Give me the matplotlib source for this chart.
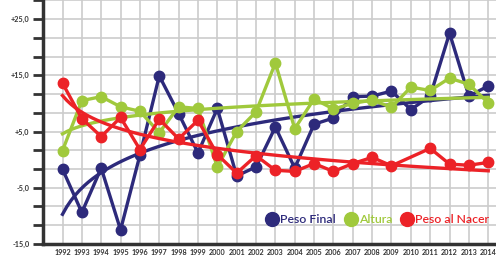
import numpy as np
import matplotlib
matplotlib.use("Agg")
import matplotlib.pyplot as plt

# Peso Final (navy), one point per year
years_final = list(range(1992, 2015))
peso_final = [-1.7, -9.4, -1.5, -12.5, 0.8, 14.9, 8.2, 1.2, 9.1, -2.9, -1.3, 5.8,
              -1.5, 6.3, 7.4, 11.2, 11.3, 12.2, 8.9, 11.3, 22.5, 11.3, 13.1]

# Altura (green)
years_altura = list(range(1992, 2015))
altura = [1.6, 10.5, 11.2, 9.4, 8.6, 4.8, 9.4, 9.1, -1.3, 5.0, 8.5, 17.2,
          5.5, 10.8, 9.0, 10.0, 10.6, 9.3, 12.9, 12.3, 14.5, 13.4, 10.1]

# Peso al Nacer (red), no point for 2010
years_nacer = [1992, 1993, 1994, 1995, 1996, 1997, 1998, 1999, 2000, 2001, 2002,
               2003, 2004, 2005, 2006, 2007, 2008, 2009, 2011, 2012, 2013, 2014]
peso_nacer = [13.6, 7.3, 4.1, 7.5, 1.8, 7.2, 3.7, 7.0, 0.9, -2.4, 0.7,
              -1.9, -2.1, -0.7, -2.1, -0.7, 0.4, -1.1, 2.0, -0.8, -1.0, -0.5]

y_labels = ["-15,0", "-5,0", "+5,0", "+15,0", "+25,0"]

NAVY = "#2d2a7b"
GREEN = "#a0c93c"
RED = "#ec2227"

plt.rcParams["font.family"] = ["Lato", "DejaVu Sans"]

fig = plt.figure(figsize=(4.96, 2.62), dpi=100)
ax = fig.add_axes([0.087, 0.069, 0.913, 0.931])


def log_trend(years, values):
    # logarithmic trendline on period index, like a spreadsheet trendline
    t = np.array(years) - 1991
    b, a = np.polyfit(np.log(t), values, 1)
    tt = np.linspace(t.min(), t.max(), 100)
    return tt + 1991, a + b * np.log(tt)


series = [
    (years_final, peso_final, NAVY, "Peso Final"),
    (years_altura, altura, GREEN, "Altura"),
    (years_nacer, peso_nacer, RED, "Peso al Nacer"),
]

for yrs, vals, col, name in series:
    ax.plot(yrs, vals, color=col, lw=2.4, marker="o", ms=7.5, zorder=3)
    tx, ty = log_trend(yrs, vals)
    ax.plot(tx, ty, color=col, lw=2.4, zorder=3)

handles = [plt.Line2D([], [], ls="none", marker="o", ms=10, color=c)
           for _, _, c, _ in series]
leg = ax.legend(handles, [s[3] for s in series], loc="center right",
                bbox_to_anchor=(1.0, 0.1), ncol=3, frameon=False,
                handletextpad=0.05, columnspacing=0.6, handlelength=1.2,
                fontsize=8.8, labelcolor=[s[2] for s in series],
                borderaxespad=0.2)
for t in leg.get_texts():
    t.set_fontweight("semibold")

ax.set_xlim(1991, 2014.4)
ax.set_ylim(-15, 28.4)
ax.set_xticks(range(1992, 2015))
ax.set_xticklabels([str(y) for y in range(1992, 2015)], fontsize=5.2,
                   fontweight="bold", color="#333333")
yt = [-15 + i * 10 / 3 for i in range(14)]
ax.set_yticks(yt)
ax.set_yticklabels([y_labels[i // 3] if i % 3 == 0 else "" for i in range(14)],
                   fontsize=5.2, fontweight="bold", color="#333333")
ax.tick_params(axis="x", length=0, pad=4)
ax.tick_params(axis="y", length=7, width=2, color="#333333", pad=3)

ax.grid(True, color="#cccccc", lw=1.2, zorder=0)
ax.set_axisbelow(True)
for s in ["top", "right"]:
    ax.spines[s].set_visible(False)
for s in ["left", "bottom"]:
    ax.spines[s].set_linewidth(2.5)
    ax.spines[s].set_color("#333333")

fig.savefig("out.png", dpi=100)
